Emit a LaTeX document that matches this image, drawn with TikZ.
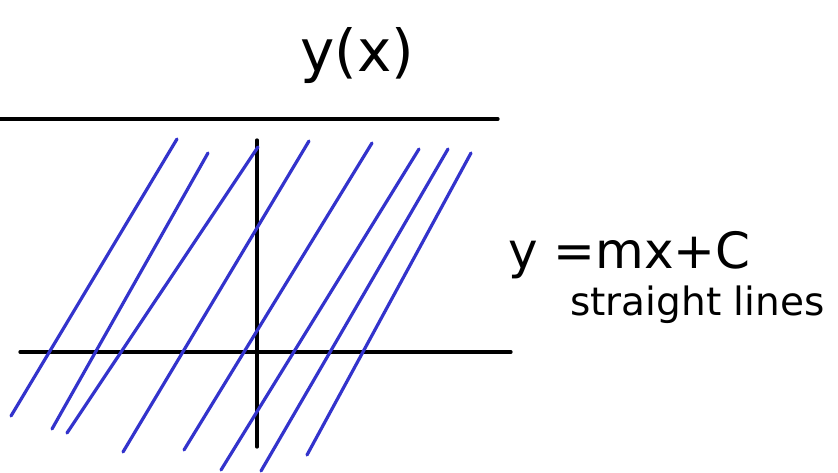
\documentclass[tikz,border=0pt]{standalone}
\usepackage{fontspec}
\setmainfont{DejaVu Sans}
\begin{document}
\begin{tikzpicture}[x=1pt,y=-1pt,
  axis/.style={line width=3.3pt,black,line cap=round},
  family/.style={line width=3.2pt,color={rgb,255:red,51;green,51;blue,204},line cap=round},
  hand/.style={inner sep=0pt,anchor=base west}]
\useasboundingbox (0,0) rectangle (838,473);
\draw[axis] (0,119) -- (498,119);
\draw[axis] (257,140) -- (257,447);
\draw[axis] (20,352) -- (511,352);
\draw[family] (11,416) -- (177,139);
\draw[family] (52,429) -- (208,153);
\draw[family] (67,433) -- (258,147);
\draw[family] (123,452) -- (309,141);
\draw[family] (184,450) -- (372,143);
\draw[family] (221,470) -- (419,149);
\draw[family] (261,471) -- (448,149);
\draw[family] (307,455) -- (471,153);
\node[hand,font=\fontsize{58}{64}\selectfont] (title) at (300,72) {y(x)};
\node[hand,font=\fontsize{50}{56}\selectfont] (eq) at (508,268) {y =mx+C};
\node[hand,font=\fontsize{39}{45}\selectfont] (desc) at (570,315) {straight lines};
\end{tikzpicture}
\end{document}
